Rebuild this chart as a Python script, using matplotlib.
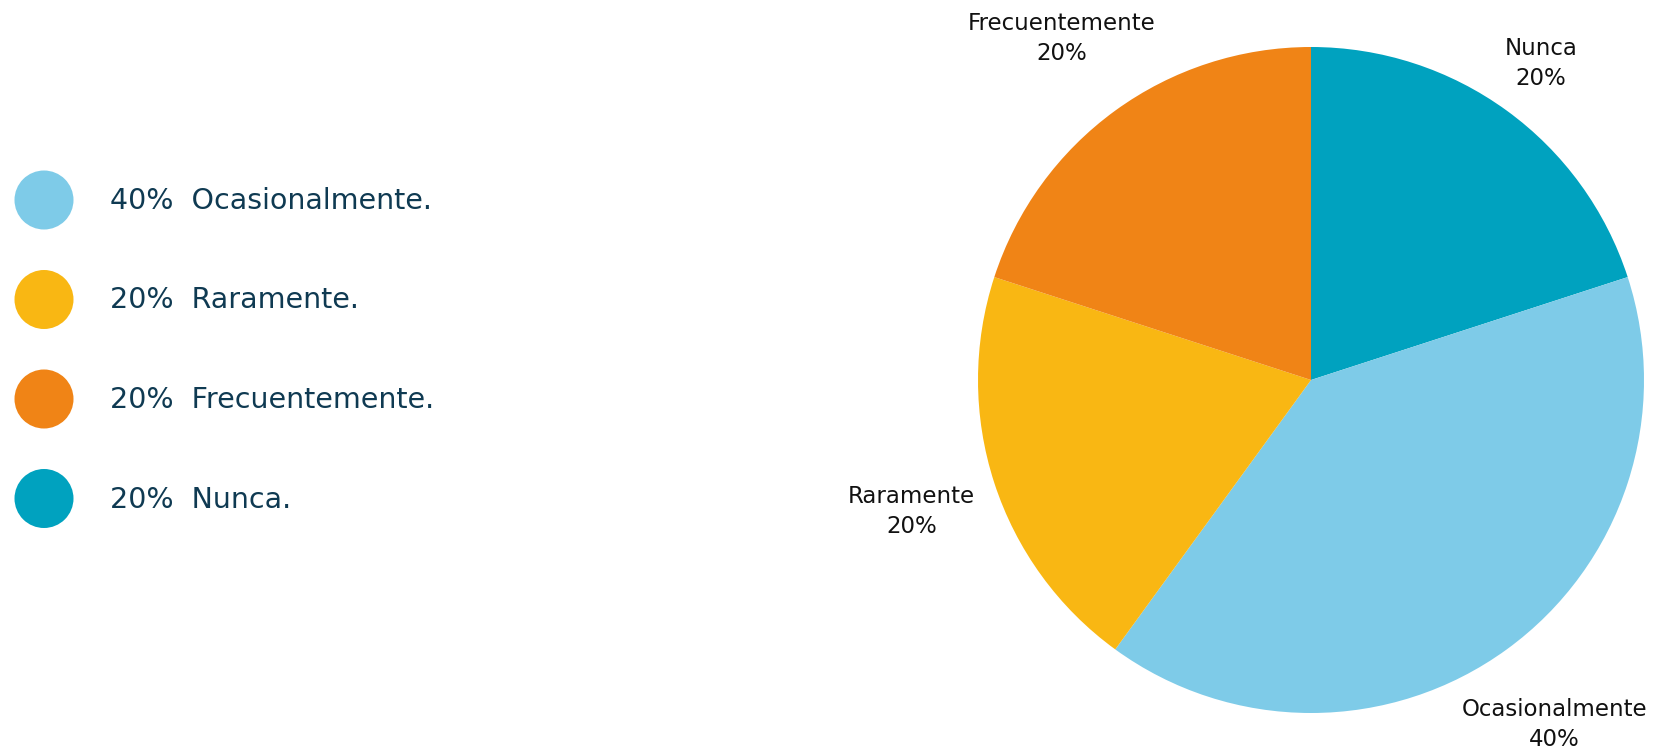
import matplotlib
matplotlib.use("Agg")
import matplotlib.pyplot as plt
from matplotlib.patches import Circle

plt.rcParams['font.family'] = ['DejaVu Sans']

# data
categories = ["Nunca", "Ocasionalmente", "Raramente", "Frecuentemente"]
values = [20, 40, 20, 20]
colors = ["#00a2bf", "#7ecbe8", "#f9b713", "#f08416"]

legend_order = ["Ocasionalmente", "Raramente", "Frecuentemente", "Nunca"]

W, H = 1667, 751
fig = plt.figure(figsize=(W / 100, H / 100), dpi=100)

# pie axes
cx, cy, r = 1311, 380, 333
ax = fig.add_axes([(cx - r) / W, (H - cy - r) / H, 2 * r / W, 2 * r / H])
ax.pie(values, colors=colors, startangle=90, counterclock=False,
       wedgeprops=dict(linewidth=0), radius=1)
ax.set_xlim(-1, 1)
ax.set_ylim(-1, 1)
ax.set_aspect('equal')
ax.axis('off')

label_pos = {
    "Nunca": (0.69, 0.95),
    "Ocasionalmente": (0.73, -1.035),
    "Raramente": (-1.20, -0.395),
    "Frecuentemente": (-0.75, 1.026),
}
total = sum(values)
for cat, v in zip(categories, values):
    x, y = label_pos[cat]
    ax.text(x, y, f"{cat}\n{round(100 * v / total)}%", ha='center', va='center',
            fontsize=16.5, color='#111111', linespacing=1.42)

# legend axes in pixel coordinates
lax = fig.add_axes([0, 0, 1, 1])
lax.set_xlim(0, W)
lax.set_ylim(H, 0)
lax.axis('off')
y0, dy = 200, 99.5
for i, cat in enumerate(legend_order):
    idx = categories.index(cat)
    y = y0 + i * dy
    lax.add_patch(Circle((44, y), 29.5, color=colors[idx], lw=0))
    lax.text(110, y + 1, f"{round(100 * values[idx] / total)}%  {cat}.",
             ha='left', va='center', fontsize=20.5, color='#0f3a52')

fig.savefig("out.png", dpi=100)
